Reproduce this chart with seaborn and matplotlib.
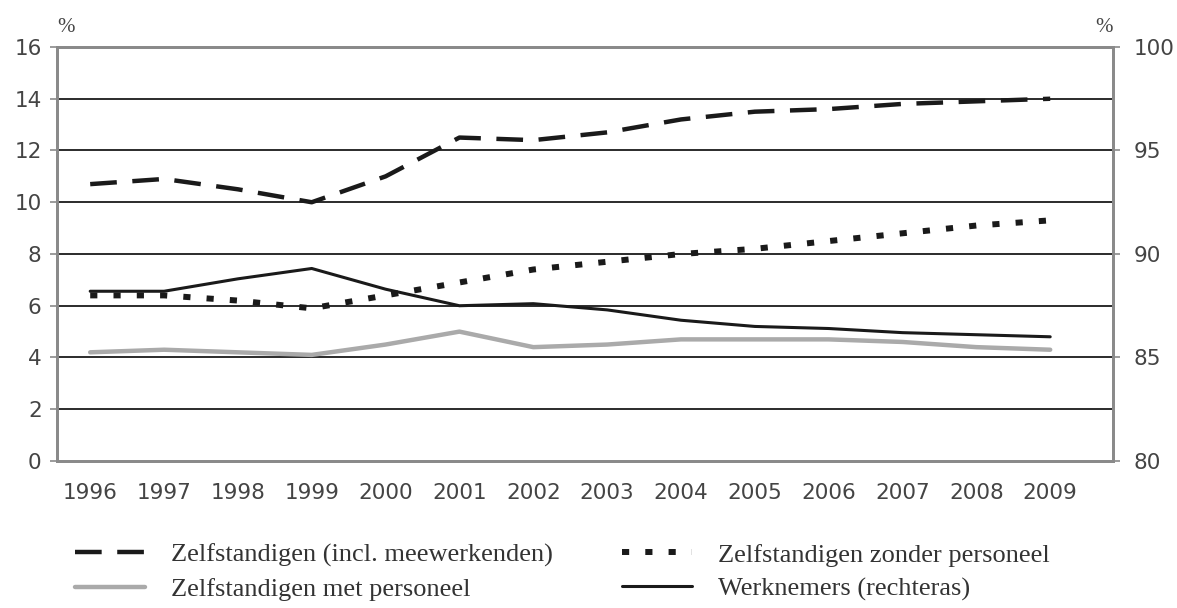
import matplotlib
matplotlib.use("Agg")
import matplotlib.pyplot as plt
import seaborn as sns
import numpy as np

# -------------------------------
# Data
# -------------------------------
years = ["1996", "1997", "1998", "1999", "2000", "2001", "2002",
         "2003", "2004", "2005", "2006", "2007", "2008", "2009"]

zelfstandigen_incl = [10.7, 10.9, 10.5, 10.0, 11.0, 12.5, 12.4,
                      12.7, 13.2, 13.5, 13.6, 13.8, 13.9, 14.0]
zonder_personeel = [6.4, 6.4, 6.2, 5.9, 6.4, 6.9, 7.4,
                    7.7, 8.0, 8.2, 8.5, 8.8, 9.1, 9.3]
met_personeel = [4.2, 4.3, 4.2, 4.1, 4.5, 5.0, 4.4,
                 4.5, 4.7, 4.7, 4.7, 4.6, 4.4, 4.3]
werknemers = [88.2, 88.2, 88.8, 89.3, 88.3, 87.5, 87.6,
              87.3, 86.8, 86.5, 86.4, 86.2, 86.1, 86.0]

left_ticks = [0, 2, 4, 6, 8, 10, 12, 14, 16]
right_ticks = [80, 85, 90, 95, 100]

labels = ["Zelfstandigen (incl. meewerkenden)",
          "Zelfstandigen met personeel",
          "Zelfstandigen zonder personeel",
          "Werknemers (rechteras)"]

sns.set_style("white")
plt.rcParams['font.family'] = ['DejaVu Sans']

x = np.arange(len(years))
tick_col = "#444444"
spine_col = "#8a8a8a"

fig = plt.figure(figsize=(11.77, 6.08), dpi=100)
ax = fig.add_axes([0.0484, 0.2418, 0.8972, 0.6809])
ax2 = ax.twinx()

# horizontal grid lines
for v in left_ticks[1:-1]:
    ax.axhline(v, color="#1a1a1a", lw=1.3, zorder=1)

sns.lineplot(x=x, y=zelfstandigen_incl, ax=ax, color="#1a1a1a", lw=3.2,
             label=labels[0], zorder=3)
ax.lines[-1].set_dashes((6, 3.5))
sns.lineplot(x=x, y=met_personeel, ax=ax, color="#aaaaaa", lw=3.2,
             label=labels[1], zorder=3)
sns.lineplot(x=x, y=zonder_personeel, ax=ax, color="#1a1a1a", lw=4.3,
             label=labels[2], zorder=3)
ax.lines[-1].set_dashes((1.2, 2.7))
sns.lineplot(x=x, y=werknemers, ax=ax2, color="#1a1a1a", lw=2.2,
             label=labels[3], zorder=3)

ax.set_ylim(0, 16)
ax2.set_ylim(80, 100)
ax.set_xlim(-0.45, 13.85)
ax.set_yticks(left_ticks)
ax2.set_yticks(right_ticks)

# year labels at data points, tick marks between categories
ax.set_xticks(x[:-1] + 0.52)
ax.set_xticklabels([])
ax.set_xticks(x, minor=True)
ax.set_xticklabels(years, minor=True)
ax.tick_params(axis="x", which="major", length=5, width=1.2, color=spine_col, direction="out")
ax.tick_params(axis="x", which="minor", length=0, pad=16, labelsize=15.5, labelcolor=tick_col)
ax.tick_params(axis="y", length=5, width=1.2, color=spine_col, labelsize=15.5,
               labelcolor=tick_col, pad=6)
ax2.tick_params(axis="y", length=5, width=1.2, color=spine_col, labelsize=15.5,
                labelcolor=tick_col, pad=10)

for a in (ax, ax2):
    for s in a.spines.values():
        s.set_color(spine_col)
        s.set_linewidth(2)
    a.set_xlabel("")
    a.set_ylabel("")

ax.text(0.0, 1.025, "%", transform=ax.transAxes, fontsize=15, color=tick_col,
        ha="left", va="bottom", fontfamily="Liberation Serif")
ax.text(1.0, 1.025, "%", transform=ax.transAxes, fontsize=15, color=tick_col,
        ha="right", va="bottom", fontfamily="Liberation Serif")

# combined legend below the chart
h1, l1 = ax.get_legend_handles_labels()
h2, l2 = ax2.get_legend_handles_labels()
ax.get_legend().remove()
ax2.get_legend().remove()
fig.legend(h1 + h2, l1 + l2, ncol=2, loc="upper left",
           bbox_to_anchor=(0.0548, 0.124), borderaxespad=0, frameon=False,
           prop={"family": "Liberation Serif", "size": 19},
           labelcolor="#333333", handlelength=2.65, handletextpad=1.0,
           columnspacing=2.6, labelspacing=0.4)

fig.savefig("out.png", dpi=100)
